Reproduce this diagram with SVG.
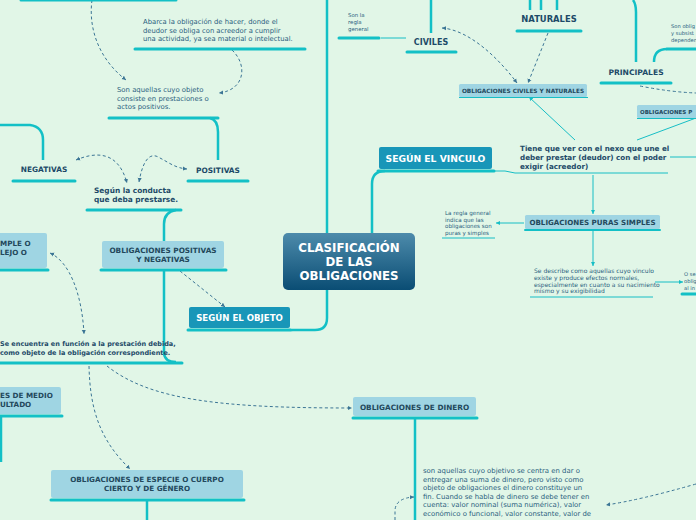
<svg xmlns="http://www.w3.org/2000/svg" width="696" height="520" viewBox="0 0 696 520">
<defs>
<linearGradient id="cg" x1="0" y1="0" x2="0" y2="1"><stop offset="0" stop-color="#4d8bab"/><stop offset="1" stop-color="#0a4d74"/></linearGradient>
<marker id="ah" viewBox="0 0 6 6" refX="5" refY="3" markerWidth="5" markerHeight="5" orient="auto-start-reverse"><path d="M0,0.5 L5,3 L0,5.5 z" fill="#3b7595"/></marker>
<marker id="at" viewBox="0 0 6 6" refX="5" refY="3" markerWidth="5" markerHeight="5" orient="auto-start-reverse"><path d="M0,0.5 L5,3 L0,5.5 z" fill="#17bec5"/></marker>
<style>
.ul{stroke:#13c0c6;stroke-width:3;stroke-linecap:round;fill:none}
.ul2{stroke:#13c0c6;stroke-width:2;stroke-linecap:round;fill:none}
.ln{stroke:#13c0c6;stroke-width:2.5;fill:none}
.thin{stroke:#17bec5;stroke-width:1;fill:none}
.dash{stroke:#3b7595;stroke-width:1;stroke-dasharray:3 2.5;fill:none}
.box{fill:#9fd5e3}
.dbox{fill:#1896b8}
.t{font-family:"DejaVu Sans",Verdana,sans-serif;font-weight:bold;fill:#1d4a68}
.tb{font-family:"DejaVu Sans",Verdana,sans-serif;font-weight:bold;fill:#23485c}
.w{font-family:"DejaVu Sans",Verdana,sans-serif;font-weight:bold;fill:#ffffff}
.b{font-family:"DejaVu Sans",Verdana,sans-serif;fill:#2a5e7e}
</style>
</defs>
<rect width="696" height="520" fill="#e1f6e7"/>

<g id="connectors">
<path class="ln" d="M327,0 V233"/>
<path class="ln" d="M372,233 V184 Q372,171 385,171"/>
<path class="ln" d="M327,290 V318 Q327,330 315,330 H292"/>
<path class="thin" d="M495,171 H505 L515,173"/>
<path class="thin" d="M575,140 L529,97" marker-end="url(#at)"/>
<path class="thin" d="M637,140 L696,118"/>
<path class="thin" d="M670,157 H696"/>
<path class="thin" d="M593,175 V214" marker-end="url(#at)"/>
<path class="thin" d="M524,223 H496" marker-end="url(#at)"/>
<path class="thin" d="M593,231 V266" marker-end="url(#at)"/>
<path class="thin" d="M655,282 H683" marker-end="url(#at)"/>
<path class="thin" d="M381,38 H406"/>
<path class="ln" d="M431,0 V33"/>
<path class="ln" d="M530,0 V10 M541,0 V10 M557,0 V10"/>
<path class="ln" d="M633,0 Q636,4 636,12 V62"/>
<path class="ln" d="M654,62 Q654,49 667,49"/>
<path class="dash" d="M442,28 C470,30 500,60 517,83" marker-start="url(#ah)" marker-end="url(#ah)"/>
<path class="dash" d="M548,33 L528,83" marker-end="url(#ah)"/>
<path class="dash" d="M640,86 Q670,92 696,93"/>
<path class="dash" d="M92,0 C88,30 100,60 126,80" marker-end="url(#ah)"/>
<path class="dash" d="M232,50 C248,65 245,90 219,93" marker-end="url(#ah)"/>
<path class="ln" d="M210,118 Q218,120 218,132 V160"/>
<path class="ln" d="M0,125 H30 Q43,127 43,140 V160"/>
<path class="dash" d="M76,160 C95,152 118,150 127,183" marker-start="url(#ah)" marker-end="url(#ah)"/>
<path class="dash" d="M139,182 C142,165 148,150 160,158 C168,162 175,168 187,169" marker-start="url(#ah)" marker-end="url(#ah)"/>
<path class="ln" d="M176,210 Q164,212 164,224 V241"/>
<path class="ln" d="M164,270 V352 Q164,362 176,362"/>
<path class="dash" d="M180,271 L225,307" marker-end="url(#ah)"/>
<path class="dash" d="M50,253 C70,262 82,295 84,334" marker-start="url(#ah)" marker-end="url(#ah)"/>
<path class="ln" d="M1,416 V462"/>
<path class="dash" d="M89,366 C90,410 100,440 130,469" marker-end="url(#ah)"/>
<path class="dash" d="M107,366 C150,400 220,408 352,408" marker-end="url(#ah)"/>
<path class="ln" d="M147,500 V520"/>
<path class="ln" d="M415,418 V520"/>
<path class="dash" d="M696,484 Q640,500 606,505" marker-end="url(#ah)"/>
<path class="dash" d="M395,520 V510 Q396,498 414,497" marker-end="url(#ah)"/>
</g>

<g id="central">
<rect x="283" y="233" width="132" height="57" rx="5" fill="url(#cg)"/>
<text class="w" font-size="11.8" text-anchor="middle"><tspan x="349" y="252">CLASIFICACIÓN</tspan><tspan x="349" y="266">DE LAS</tspan><tspan x="349" y="280">OBLIGACIONES</tspan></text>
</g>

<g id="segun-objeto">
<rect class="dbox" x="189" y="307" width="101" height="21" rx="2"/>
<text class="w" font-size="8.6" x="239.5" y="321" text-anchor="middle">SEGÚN EL OBJETO</text>
<path class="ul" d="M188,330 H291"/>
</g>

<g id="segun-vinculo">
<rect class="dbox" x="379" y="147" width="113" height="22" rx="2"/>
<text class="w" font-size="9.2" x="435.5" y="162" text-anchor="middle">SEGÚN EL VINCULO</text>
<path class="ul" d="M378,171 H494"/>
</g>

<g id="tiene">
<text class="t" font-size="7.2"><tspan x="520" y="151">Tiene que ver con el nexo que une el</tspan><tspan x="520" y="160">deber prestar (deudor) con el poder</tspan><tspan x="520" y="169">exigir (acreedor)</tspan></text>
<path class="thin" d="M515,173 H668" stroke-width="1.5"/>
</g>

<g id="civiles-naturales">
<rect class="box" x="459" y="84" width="128" height="13" rx="1.5"/>
<text class="tb" font-size="5.8" x="523" y="92.5" text-anchor="middle">OBLIGACIONES CIVILES Y NATURALES</text>
<path class="thin" d="M459,97.5 H588" stroke-width="1.5"/>
</g>

<g id="civiles">
<text class="t" font-size="8" x="431" y="45" text-anchor="middle">CIVILES</text>
<path class="ul" d="M407,52 H456"/>
</g>

<g id="regla-general-civil">
<text class="b" font-size="5.4" ><tspan x="348" y="17">Son la</tspan><tspan x="348" y="24">regla</tspan><tspan x="348" y="31">general</tspan></text>
<path class="ul" d="M339,38 H379"/>
</g>

<g id="naturales">
<text class="t" font-size="8.4" x="549" y="22" text-anchor="middle">NATURALES</text>
<path class="ul" d="M517,31 H581"/>
</g>

<g id="principales">
<text class="t" font-size="7.6" x="636" y="75" text-anchor="middle">PRINCIPALES</text>
<path class="ul" d="M601,83 H671"/>
</g>

<g id="principales-desc">
<text class="b" font-size="5.2"><tspan x="671" y="28">Son oblig</tspan><tspan x="671" y="35">y subsist</tspan><tspan x="671" y="42">dependen</tspan></text>
<path class="ul" d="M667,49 H700"/>
</g>

<g id="obligaciones-p">
<rect class="box" x="637" y="105" width="70" height="13" rx="1.5"/>
<text class="tb" font-size="5.5" x="640" y="113.5">OBLIGACIONES P</text>
<path class="thin" d="M637,118.5 H700" stroke-width="1.5"/>
</g>

<g id="puras-simples">
<rect class="box" x="525" y="215" width="135" height="14" rx="1.5"/>
<text class="tb" font-size="7.1" x="592.5" y="224.8" text-anchor="middle">OBLIGACIONES PURAS SIMPLES</text>
<path class="ul2" d="M525,230 H660"/>
</g>

<g id="regla-general">
<text class="b" font-size="5.6"><tspan x="445" y="215">La regla general</tspan><tspan x="445" y="221.5">indica que las</tspan><tspan x="445" y="228">obligaciones son</tspan><tspan x="445" y="235">puras y simples</tspan></text>
<path class="thin" d="M442,238 H495" stroke-width="1.5"/>
</g>

<g id="se-describe">
<text class="b" font-size="6"><tspan x="534" y="273">Se describe como aquellas cuyo vinculo</tspan><tspan x="534" y="280">existe y produce efectos normales,</tspan><tspan x="534" y="286.5">especialmente en cuanto a su nacimiento</tspan><tspan x="534" y="293">mismo y su exigibilidad</tspan></text>
<path class="thin" d="M530,297 H653" stroke-width="1.5"/>
</g>

<g id="o-se">
<text class="b" font-size="5.2"><tspan x="684" y="276">O se</tspan><tspan x="684" y="283">oblig</tspan><tspan x="684" y="290">al in</tspan></text>
<path class="ul" d="M682,294 H700"/>
</g>

<g id="abarca">
<text class="b" font-size="6.8"><tspan x="143" y="24">Abarca la obligación de hacer, donde el</tspan><tspan x="143" y="32.5">deudor se obliga con acreedor a cumplir</tspan><tspan x="143" y="41">una actividad, ya sea material o intelectual.</tspan></text>
<path class="ul" d="M135,49 H305"/>
</g>

<g id="top-left">
<path class="ul" d="M21,0 H176"/>
</g>

<g id="son-aquellas">
<text class="b" font-size="6.9"><tspan x="117" y="92">Son aquellas cuyo objeto</tspan><tspan x="117" y="100.5">consiste en prestaciones o</tspan><tspan x="117" y="109">actos positivos.</tspan></text>
<path class="ul" d="M109,118 H218"/>
</g>

<g id="negativas">
<text class="t" font-size="7.4" x="44" y="172" text-anchor="middle">NEGATIVAS</text>
<path class="ul" d="M13,181 H75"/>
</g>

<g id="positivas">
<text class="t" font-size="7.4" x="218" y="173" text-anchor="middle">POSITIVAS</text>
<path class="ul" d="M188,181 H248"/>
</g>

<g id="segun-conducta">
<text class="t" font-size="7.4"><tspan x="94" y="193">Según la conducta</tspan><tspan x="94" y="202">que deba prestarse.</tspan></text>
<path class="ul" d="M87,210 H181"/>
</g>

<g id="positivas-negativas">
<rect class="box" x="102" y="241" width="122" height="27" rx="2"/>
<text class="tb" font-size="7.3" text-anchor="middle"><tspan x="163" y="252.5">OBLIGACIONES POSITIVAS</tspan><tspan x="163" y="261.5">Y NEGATIVAS</tspan></text>
<path class="ul" d="M101,270 H226"/>
</g>

<g id="simple-complejo">
<rect class="box" x="-5" y="233" width="52" height="35" rx="2"/>
<text class="tb" font-size="7.2"><tspan x="0" y="246">MPLE O</tspan><tspan x="0" y="255">LEJO O</tspan></text>
<path class="ul" d="M-2,270 H48"/>
</g>

<g id="se-encuentra">
<text class="t" font-size="6.5"><tspan x="0" y="346">Se encuentra en función a la prestación debida,</tspan><tspan x="0" y="355">como objeto de la obligación correspondiente.</tspan></text>
<path class="ul" d="M-2,363 H182"/>
</g>

<g id="medio-resultado">
<rect class="box" x="-5" y="387" width="66" height="27" rx="2"/>
<text class="tb" font-size="7.2"><tspan x="0" y="398">ES DE MEDIO</tspan><tspan x="0" y="407">ULTADO</tspan></text>
<path class="ul" d="M-2,416 H62"/>
</g>

<g id="especie">
<rect class="box" x="51" y="470" width="192" height="28" rx="2"/>
<text class="tb" font-size="7.2" text-anchor="middle"><tspan x="147" y="482">OBLIGACIONES DE ESPECIE O CUERPO</tspan><tspan x="147" y="491">CIERTO Y DE GÉNERO</tspan></text>
<path class="ul" d="M51,500 H244"/>
</g>

<g id="dinero">
<rect class="box" x="353" y="397" width="123" height="19" rx="2"/>
<text class="tb" font-size="7.3" x="414.5" y="410" text-anchor="middle">OBLIGACIONES DE DINERO</text>
<path class="ul" d="M353,418 H477"/>
</g>

<g id="dinero-desc">
<text class="b" font-size="6.9"><tspan x="423" y="473">son aquellas cuyo objetivo se centra en dar o</tspan><tspan x="423" y="481.5">entregar una suma de dinero, pero visto como</tspan><tspan x="423" y="490">objeto de obligaciones el dinero constituye un</tspan><tspan x="423" y="498.5">fin. Cuando se habla de dinero se debe tener en</tspan><tspan x="423" y="507">cuenta: valor nominal (suma numérica), valor</tspan><tspan x="423" y="515.5">económico o funcional, valor constante, valor de</tspan></text>
</g>
</svg>
